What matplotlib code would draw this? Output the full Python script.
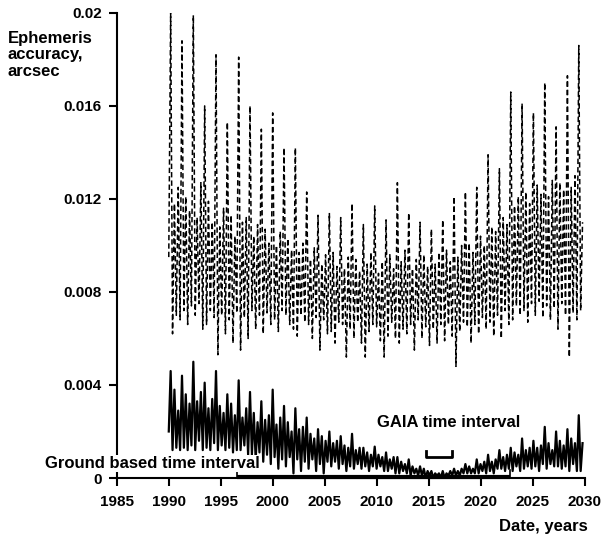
import numpy as np
import matplotlib
matplotlib.use("Agg")
import matplotlib.pyplot as plt

plt.rcParams['font.family'] = ['Liberation Sans', 'DejaVu Sans']
plt.rcParams['font.weight'] = 'bold'

# sampling of both curves: one value every ~0.18 yr, 6 samples per ~1.09 yr cycle
t_start = 1989.98
t_step = 0.1817

# dashed curve (upper), rows = one cycle: peak, low, mid, low, mid, low
upper_lead = [0.0095]
upper_rows = [
    [0.0200, 0.0062, 0.0118, 0.0070, 0.0125, 0.0068],
    [0.0188, 0.0072, 0.0121, 0.0066, 0.0115, 0.0074],
    [0.0199, 0.0070, 0.0112, 0.0075, 0.0127, 0.0064],
    [0.0160, 0.0066, 0.0119, 0.0072, 0.0110, 0.0069],
    [0.0182, 0.0053, 0.0108, 0.0070, 0.0116, 0.0062],
    [0.0153, 0.0068, 0.0113, 0.0058, 0.0104, 0.0071],
    [0.0181, 0.0055, 0.0110, 0.0069, 0.0112, 0.0060],
    [0.0160, 0.0072, 0.0104, 0.0064, 0.0109, 0.0070],
    [0.0150, 0.0062, 0.0107, 0.0071, 0.0101, 0.0066],
    [0.0157, 0.0068, 0.0100, 0.0063, 0.0106, 0.0072],
    [0.0142, 0.0070, 0.0103, 0.0066, 0.0098, 0.0064],
    [0.0142, 0.0061, 0.0097, 0.0070, 0.0101, 0.0067],
    [0.0123, 0.0066, 0.0094, 0.0060, 0.0099, 0.0069],
    [0.0113, 0.0055, 0.0092, 0.0068, 0.0096, 0.0062],
    [0.0114, 0.0063, 0.0097, 0.0058, 0.0091, 0.0067],
    [0.0112, 0.0066, 0.0090, 0.0052, 0.0095, 0.0064],
    [0.0118, 0.0060, 0.0094, 0.0067, 0.0089, 0.0058],
    [0.0109, 0.0052, 0.0092, 0.0063, 0.0097, 0.0066],
    [0.0117, 0.0065, 0.0088, 0.0059, 0.0093, 0.0052],
    [0.0111, 0.0061, 0.0096, 0.0067, 0.0090, 0.0060],
    [0.0127, 0.0058, 0.0093, 0.0064, 0.0098, 0.0062],
    [0.0114, 0.0066, 0.0090, 0.0055, 0.0094, 0.0068],
    [0.0110, 0.0060, 0.0096, 0.0065, 0.0091, 0.0057],
    [0.0107, 0.0064, 0.0092, 0.0058, 0.0097, 0.0066],
    [0.0111, 0.0059, 0.0098, 0.0066, 0.0093, 0.0061],
    [0.0121, 0.0048, 0.0095, 0.0063, 0.0100, 0.0067],
    [0.0123, 0.0065, 0.0101, 0.0058, 0.0097, 0.0066],
    [0.0125, 0.0062, 0.0104, 0.0069, 0.0100, 0.0064],
    [0.0139, 0.0067, 0.0108, 0.0061, 0.0106, 0.0070],
    [0.0133, 0.0060, 0.0112, 0.0072, 0.0109, 0.0066],
    [0.0166, 0.0068, 0.0117, 0.0074, 0.0121, 0.0070],
    [0.0161, 0.0072, 0.0123, 0.0067, 0.0118, 0.0075],
    [0.0157, 0.0070, 0.0126, 0.0076, 0.0122, 0.0069],
    [0.0170, 0.0074, 0.0121, 0.0068, 0.0128, 0.0073],
    [0.0151, 0.0064, 0.0127, 0.0075, 0.0124, 0.0070],
    [0.0173, 0.0052, 0.0125, 0.0071, 0.0130, 0.0068],
    [0.0186, 0.0072, 0.0110],
]

# solid curve (lower)
lower_lead = [0.0020]
lower_rows = [
    [0.0046, 0.0012, 0.0038, 0.0013, 0.0029, 0.0012],
    [0.0044, 0.0013, 0.0036, 0.0012, 0.0032, 0.0014],
    [0.0050, 0.0012, 0.0033, 0.0016, 0.0037, 0.0012],
    [0.0041, 0.0013, 0.0030, 0.0012, 0.0034, 0.0015],
    [0.0046, 0.0012, 0.0031, 0.0014, 0.0028, 0.0012],
    [0.0036, 0.0013, 0.0032, 0.0011, 0.0027, 0.0012],
    [0.0042, 0.0012, 0.0026, 0.0014, 0.0030, 0.0010],
    [0.0037, 0.0010, 0.0028, 0.0008, 0.0024, 0.0011],
    [0.0033, 0.0007, 0.0025, 0.0010, 0.0027, 0.0006],
    [0.0038, 0.0009, 0.0023, 0.0004, 0.0026, 0.0008],
    [0.0031, 0.0005, 0.0024, 0.0009, 0.0020, 0.0002],
    [0.0030, 0.0008, 0.0021, 0.0003, 0.0022, 0.0007],
    [0.0026, 0.0004, 0.0019, 0.0008, 0.0017, 0.0003],
    [0.0021, 0.0006, 0.0018, 0.0002, 0.0016, 0.0007],
    [0.0020, 0.0005, 0.0015, 0.0007, 0.0016, 0.0004],
    [0.0018, 0.0006, 0.0014, 0.0003, 0.0013, 0.0005],
    [0.0019, 0.0004, 0.0012, 0.0006, 0.0013, 0.0004],
    [0.0013, 0.0005, 0.0011, 0.0003, 0.0010, 0.0005],
    [0.00135, 0.0004, 0.0010, 0.0005, 0.0009, 0.0003],
    [0.0011, 0.0003, 0.0008, 0.0004, 0.0009, 0.0002],
    [0.0009, 0.0002, 0.0007, 0.0003, 0.0006, 0.0002],
    [0.0008, 0.0001, 0.0005, 0.0002, 0.0004, 0.0001],
    [0.0005, 0.0001, 0.0004, 0.0000, 0.0003, 0.0001],
    [0.0003, 0.0000, 0.0002, 0.0001, 0.0002, 0.0000],
    [0.0003, 0.0000, 0.0002, 0.0001, 0.0003, 0.0001],
    [0.0004, 0.0001, 0.0003, 0.0001, 0.0004, 0.0002],
    [0.0006, 0.0002, 0.0005, 0.0002, 0.0004, 0.0002],
    [0.0008, 0.0002, 0.0006, 0.0003, 0.0007, 0.0002],
    [0.0010, 0.0003, 0.0007, 0.0002, 0.0008, 0.0004],
    [0.0012, 0.0004, 0.0009, 0.0003, 0.0010, 0.0004],
    [0.0013, 0.0003, 0.0011, 0.0005, 0.0010, 0.0003],
    [0.0017, 0.0004, 0.0012, 0.0005, 0.0013, 0.0004],
    [0.0016, 0.0005, 0.0013, 0.0003, 0.0014, 0.0006],
    [0.0022, 0.0004, 0.0015, 0.0006, 0.0012, 0.0005],
    [0.0020, 0.0005, 0.0016, 0.0004, 0.0014, 0.0005],
    [0.0021, 0.0003, 0.0017, 0.0006, 0.0015, 0.0003],
    [0.0027, 0.0003, 0.0015],
]

x_ticks = [1985, 1990, 1995, 2000, 2005, 2010, 2015, 2020, 2025, 2030]
y_ticks = [0, 0.004, 0.008, 0.012, 0.016, 0.02]
y_tick_labels = ['0', '0.004', '0.008', '0.012', '0.016', '0.02']

gaia_interval = (2014.7, 2017.2)
ground_interval = (1996.5, 2022.8)

upper = np.array(upper_lead + [v for r in upper_rows for v in r])
lower = np.array(lower_lead + [v for r in lower_rows for v in r])
t_up = t_start + t_step * np.arange(len(upper))
t_lo = t_start + t_step * np.arange(len(lower))

fig = plt.figure(figsize=(6.03, 5.38), dpi=100)
ax = fig.add_axes([0.194, 0.1115, 0.776, 0.8645])

ax.plot(t_up, upper, color='black', lw=1.1, dashes=(3.5, 2))
ax.plot(t_lo, lower, color='black', lw=1.6)

ax.set_xlim(1985, 2030)
ax.set_ylim(0, 0.02)
ax.set_xticks(x_ticks)
ax.set_yticks(y_ticks)
ax.set_yticklabels(y_tick_labels)
for s in ['top', 'right']:
    ax.spines[s].set_visible(False)
for s in ['left', 'bottom']:
    ax.spines[s].set_linewidth(1.5)
ax.tick_params(direction='out', length=6, width=1.5, labelsize=11)
ax.tick_params(axis='x', pad=6)
ax.tick_params(axis='y', pad=5)
for lab in ax.get_xticklabels() + ax.get_yticklabels():
    lab.set_fontweight('bold')

# GAIA bracket
g0, g1 = gaia_interval
ax.plot([g0, g0, g1, g1], [0.00115, 0.00090, 0.00090, 0.00115], color='black', lw=2, clip_on=False)
ax.text(2016.9, 0.0024, 'GAIA time interval', ha='center', va='center',
        fontsize=12, fontweight='bold')

# ground based bar along the axis
b0, b1 = ground_interval
ax.plot([b0, b1], [0.00005, 0.00005], color='black', lw=3, clip_on=False, solid_capstyle='butt')
ax.plot([b0, b0], [0.0, 0.00035], color='black', lw=1.2, clip_on=False)
ax.plot([b1, b1], [0.0, 0.00035], color='black', lw=1.2, clip_on=False)
ax.text(1978.1, 0.00062, 'Ground based time interval', ha='left', va='center',
        fontsize=12, fontweight='bold', zorder=5, clip_on=False,
        bbox=dict(facecolor='white', edgecolor='none', pad=0.5))

fig.text(0.013, 0.898, 'Ephemeris\naccuracy,\narcsec', ha='left', va='center',
         fontsize=12, fontweight='bold', linespacing=1.1)
fig.text(0.975, 0.022, 'Date, years', ha='right', va='center', fontsize=12, fontweight='bold')

fig.savefig('out.png', dpi=100)
